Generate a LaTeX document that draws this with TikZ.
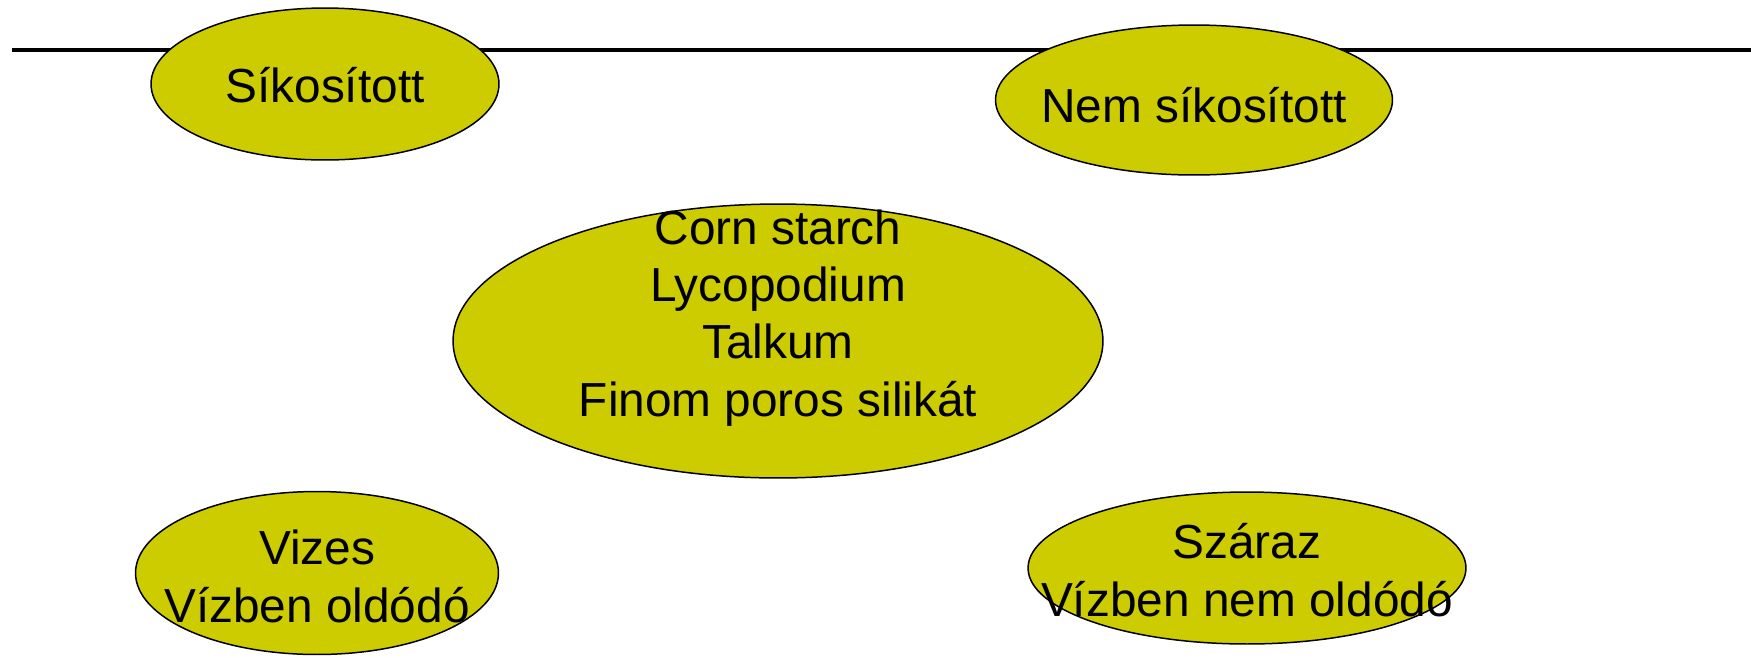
\documentclass[tikz,border=0pt]{standalone}
\usepackage{fontspec}
\setmainfont{Liberation Sans}
\usetikzlibrary{shapes.geometric}
\definecolor{olivsarga}{RGB}{204,204,0}

\begin{document}
\begin{tikzpicture}[x=0.02cm, y=-0.02cm,
        folt/.style={ellipse, draw=black, line width=0.85pt, fill=olivsarga, inner sep=0pt},
        felirat/.style={anchor=base, inner sep=0pt, font=\fontsize{27.2pt}{32.7pt}\selectfont}]
        \useasboundingbox (0,0) rectangle (1751,657);

        \coordinate (bal) at (12,50);
        \coordinate (jobb) at (1751,50);
        \draw[black, line width=2pt] (bal) -- (jobb);

        \node[folt, minimum width=6.96cm, minimum height=3.04cm] (sikfolt) at (325,84) {};
        \node[folt, minimum width=7.94cm, minimum height=3.0cm] (nemsikfolt) at (1194,100) {};
        \node[folt, minimum width=13cm, minimum height=5.48cm] (anyagfolt) at (778,341) {};
        \node[folt, minimum width=7.26cm, minimum height=3.26cm] (vizesfolt) at (317,573) {};
        \node[folt, minimum width=8.76cm, minimum height=3.04cm] (szarazfolt) at (1247,568) {};

        \node[felirat] (sik) at (325,102) {Síkosított};
        \node[felirat] (nemsik) at (1194,122) {Nem síkosított};
        \node[felirat] (corn) at (778,244) {Corn starch};
        \node[felirat] (lyco) at (778,301) {Lycopodium};
        \node[felirat] (talk) at (778,358) {Talkum};
        \node[felirat] (finom) at (778,416) {Finom poros silikát};
        \node[felirat] (vizes) at (317,564) {Vizes};
        \node[felirat] (oldodo) at (317,622) {Vízben oldódó};
        \node[felirat] (szaraz) at (1247,558) {Száraz};
        \node[felirat] (nemoldodo) at (1247,616) {Vízben nem oldódó};
    \end{tikzpicture}
\end{document}
